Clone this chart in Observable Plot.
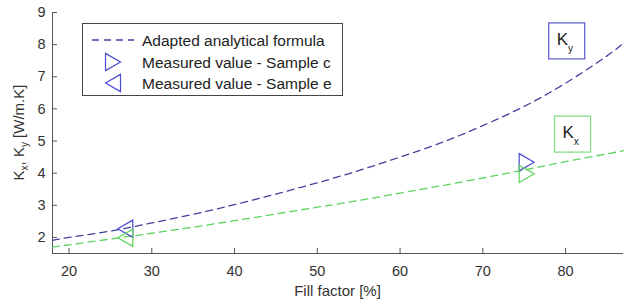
<!DOCTYPE html>
<html>
<head>
<meta charset="utf-8">
<script src="https://cdn.jsdelivr.net/npm/d3@7"></script>
<script src="https://cdn.jsdelivr.net/npm/@observablehq/plot@0.6"></script>
<style>
  html, body { margin: 0; padding: 0; background: #fff; }
  svg { display: block; }
</style>
</head>
<body>
<div id="chart"></div>
<script>
// ---- data ----
const fillFactor = [18, 20, 25, 30, 35, 40, 45, 50, 55, 60, 65, 70, 75, 80, 85, 87];
const kyFormula = [1.91, 2.0, 2.2, 2.45, 2.72, 3.02, 3.35, 3.7, 4.08, 4.5, 4.95, 5.48, 6.08, 6.8, 7.65, 8.05];
const kxFormula = [1.70, 1.77, 1.95, 2.13, 2.32, 2.52, 2.73, 2.94, 3.15, 3.38, 3.61, 3.85, 4.1, 4.36, 4.6, 4.7];

const sampleNames = ["Sample c", "Sample e"];
const sampleFill = [75.3, 26.8];
const sampleKy = [4.34, 2.27];
const sampleKx = [3.98, 1.99];

const xTicks = [20, 30, 40, 50, 60, 70, 80];
const yTicks = [2, 3, 4, 5, 6, 7, 8, 9];

const legendLabels = ["Adapted analytical formula", "Measured value - Sample c", "Measured value - Sample e"];
const compLabels = [{base: "K", sub: "y", fill: 80.2, k: 8.1}, {base: "K", sub: "x", fill: 80.9, k: 5.2}];

// ---- styles ----
const blueLine = "#42429e";
const blueMarker = "#4a4ad0";
const green = "#5dd35d";
const font = "'Liberation Sans', Arial, sans-serif";
const axisCol = "#555";

// custom triangle symbols (MATLAB '>' and '<')
const triRight = {draw(ctx, size) { const r = Math.sqrt(size / Math.PI); ctx.moveTo(-r, -1.15 * r); ctx.lineTo(r, 0); ctx.lineTo(-r, 1.15 * r); ctx.closePath(); }};
const triLeft = {draw(ctx, size) { const r = Math.sqrt(size / Math.PI); ctx.moveTo(r, -1.15 * r); ctx.lineTo(-r, 0); ctx.lineTo(r, 1.15 * r); ctx.closePath(); }};

const curves = [];
fillFactor.forEach((f, i) => {
  curves.push({series: "Ky", f, k: kyFormula[i]});
  curves.push({series: "Kx", f, k: kxFormula[i]});
});
const samples = [];
sampleNames.forEach((s, i) => {
  samples.push({sample: s, comp: "Ky", f: sampleFill[i], k: sampleKy[i]});
  samples.push({sample: s, comp: "Kx", f: sampleFill[i], k: sampleKx[i]});
});

const W = 630, H = 299, mL = 52, mR = 7, mT = 12, mB = 46;

const chart = Plot.plot({
  width: W,
  height: H,
  marginLeft: mL,
  marginRight: mR,
  marginTop: mT,
  marginBottom: mB,
  style: {fontFamily: font, fontSize: "14.5px", color: "#333", background: "#fff"},
  x: {domain: [18, 87]},
  y: {domain: [1.5, 9]},
  marks: [
    Plot.axisX({ticks: xTicks, tickSize: 0, tickPadding: 12, label: null}),
    Plot.axisY({ticks: yTicks, tickSize: 0, tickPadding: 7, label: null}),
    // inward tick marks (MATLAB style)
    Plot.tickX(xTicks, {stroke: axisCol, insetTop: (H - mT - mB) - 5}),
    Plot.tickY(yTicks, {stroke: axisCol, insetRight: (W - mL - mR) - 5}),
    Plot.ruleX([18], {stroke: axisCol}),
    Plot.ruleY([1.5], {stroke: axisCol}),
    Plot.line(curves, {x: "f", y: "k", z: "series", stroke: d => d.series === "Ky" ? blueLine : green,
      strokeWidth: 1.3, strokeDasharray: "7,5", curve: "natural"}),
    Plot.dot(samples.filter(d => d.sample === "Sample c"), {x: "f", y: "k", r: 7.5, symbol: triRight, fill: "none",
      stroke: d => d.comp === "Ky" ? blueMarker : green, strokeWidth: 1.2}),
    Plot.dot(samples.filter(d => d.sample === "Sample e"), {x: "f", y: "k", r: 7.5, symbol: triLeft, fill: "none",
      stroke: d => d.comp === "Ky" ? blueMarker : green, strokeWidth: 1.2})
  ]
});

document.getElementById("chart").appendChild(chart);
const svg = d3.select(chart);
const sx = chart.scale("x"), sy = chart.scale("y");

// axis titles
svg.append("text").attr("x", 337.5).attr("y", 296).attr("text-anchor", "middle")
  .attr("font-family", font).attr("font-size", 15).attr("fill", "#333").text("Fill factor [%]");
const yl = svg.append("text").attr("transform", "translate(24,132.5) rotate(-90)").attr("text-anchor", "middle")
  .attr("font-family", font).attr("font-size", 15).attr("fill", "#333");
yl.append("tspan").text("K");
yl.append("tspan").attr("font-size", 10).attr("dy", 4).text("x");
yl.append("tspan").attr("dy", -4).text(", K");
yl.append("tspan").attr("font-size", 10).attr("dy", 4).text("y");
yl.append("tspan").attr("dy", -4).text(" [W/m.K]");

// legend
const lg = svg.append("g").attr("font-family", font).attr("font-size", 15.5).attr("fill", "#222")
  .attr("text-anchor", "start");
lg.append("rect").attr("x", 82.5).attr("y", 23.5).attr("width", 260).attr("height", 72)
  .attr("fill", "#fff").attr("stroke", "#444");
const rowsY = [40, 62, 83];
lg.append("line").attr("x1", 92).attr("x2", 134).attr("y1", rowsY[0]).attr("y2", rowsY[0])
  .attr("stroke", blueLine).attr("stroke-width", 1.3).attr("stroke-dasharray", "7,5");
lg.append("path").attr("transform", `translate(113,${rowsY[1]})`).attr("d", d3.symbol(triRight, 7.5 * 7.5 * Math.PI)())
  .attr("fill", "none").attr("stroke", blueMarker).attr("stroke-width", 1.2);
lg.append("path").attr("transform", `translate(113,${rowsY[2]})`).attr("d", d3.symbol(triLeft, 7.5 * 7.5 * Math.PI)())
  .attr("fill", "none").attr("stroke", blueMarker).attr("stroke-width", 1.2);
legendLabels.forEach((t, i) => {
  lg.append("text").attr("x", 142).attr("y", rowsY[i] + 5.5).text(t);
});

// component boxes
compLabels.forEach((c, i) => {
  const cx = sx.apply(c.fill), cy = sy.apply(c.k);
  const col = i === 0 ? "#5a5ad0" : "#7ddc7d";
  svg.append("rect").attr("x", cx - 18).attr("y", cy - 18).attr("width", 36).attr("height", 36)
    .attr("fill", "#fff").attr("stroke", col).attr("stroke-width", 1.2);
  const t = svg.append("text").attr("x", cx - 10).attr("y", cy + 4).attr("font-family", font)
    .attr("text-anchor", "start").attr("font-size", 17).attr("fill", "#222");
  t.append("tspan").text(c.base);
  t.append("tspan").attr("font-size", 10).attr("dy", 7).text(c.sub);
});
</script>
</body>
</html>
